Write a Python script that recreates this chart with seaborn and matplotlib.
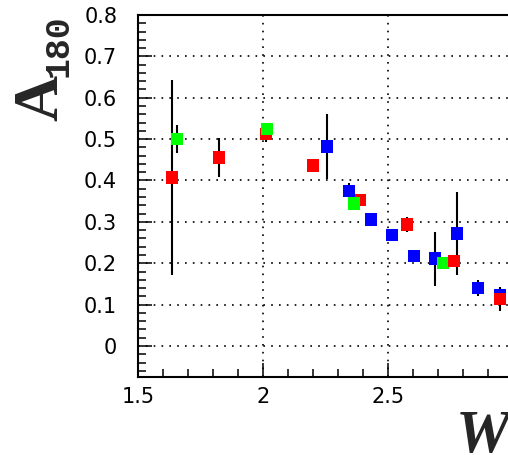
import numpy as np
import pandas as pd
import seaborn as sns
import matplotlib
matplotlib.use("Agg")
import matplotlib.pyplot as plt
from matplotlib.ticker import MultipleLocator, FuncFormatter

# Asymmetry A_180 versus W for three data sets
w_red = [1.636, 1.824, 2.012, 2.199, 2.388, 2.575, 2.764, 2.948]
a_red = [0.407, 0.456, 0.512, 0.436, 0.353, 0.294, 0.206, 0.113]
e_red = [0.235, 0.047, 0.020, 0.000, 0.010, 0.018, 0.000, 0.028]

w_green = [1.657, 2.015, 2.365, 2.719]
a_green = [0.500, 0.525, 0.344, 0.200]
e_green = [0.034, 0.015, 0.010, 0.015]

w_blue = [2.257, 2.344, 2.431, 2.517, 2.604, 2.689, 2.776, 2.861, 2.948]
a_blue = [0.482, 0.374, 0.306, 0.268, 0.218, 0.211, 0.272, 0.140, 0.122]
e_blue = [0.078, 0.020, 0.010, 0.010, 0.010, 0.065, 0.100, 0.020, 0.020]

x_ticks = [1.5, 2.0, 2.5, 3.0]
y_ticks = [0.0, 0.1, 0.2, 0.3, 0.4, 0.5, 0.6, 0.7, 0.8]

colors = {"red": "#ff0000", "green": "#00ff00", "blue": "#0000ff"}


def frame(name, w, a, e):
    return pd.DataFrame({"W": w, "A": a, "err": e, "series": name})


red = frame("red", w_red, a_red, e_red)
green = frame("green", w_green, a_green, e_green)
blue = frame("blue", w_blue, a_blue, e_blue)
# layering: low-W red points underneath, high-W red points on top
df = pd.concat([red[red.W < 2.5], blue, green, red[red.W >= 2.5]],
               ignore_index=True)

sns.set_style("white")
plt.rcParams["font.family"] = ["DejaVu Sans"]

W_PX, H_PX = 508, 455
fig = plt.figure(figsize=(W_PX / 100, H_PX / 100), dpi=100)
ax = fig.add_axes([138 / W_PX, 78 / H_PX, 400 / W_PX, 362 / H_PX])

ax.errorbar(df.W, df.A, yerr=df.err, fmt="none", ecolor="black",
            elinewidth=1.5, capsize=0, zorder=2)
sns.scatterplot(data=df, x="W", y="A", hue="series", palette=colors,
                marker="s", s=80, linewidth=0, legend=False, ax=ax, zorder=3)

ax.set_xlim(1.5, 3.1)
ax.set_ylim(-0.075, 0.8)
ax.set_xticks(x_ticks)
ax.set_yticks(y_ticks)
ax.xaxis.set_minor_locator(MultipleLocator(0.1))
ax.yaxis.set_minor_locator(MultipleLocator(0.02))
fmt = FuncFormatter(lambda v, p: f"{v:g}")
ax.xaxis.set_major_formatter(fmt)
ax.yaxis.set_major_formatter(fmt)
ax.set_xlabel("")
ax.set_ylabel("")

ax.tick_params(which="both", direction="in", top=False, right=False,
               left=True, bottom=True, width=1.1, color="black",
               labelsize=15, labelcolor="black")
ax.tick_params(which="major", length=10)
ax.tick_params(which="minor", length=5.5)
ax.tick_params(axis="y", which="major", pad=15)
ax.tick_params(axis="x", which="major", pad=7)

for sp in ax.spines.values():
    sp.set_color("black")
    sp.set_linewidth(1.5)

ax.grid(True, which="major", color="black", linestyle=(0, (1, 3.7)),
        linewidth=1.2)
ax.set_axisbelow(True)


def px(x, y):
    return x / W_PX, 1 - y / H_PX


fig.text(*px(57, 98), "A", rotation=90, rotation_mode="anchor",
         ha="center", va="baseline", fontsize=46, fontweight="bold",
         family="Liberation Serif")
fig.text(*px(68, 46), "180", rotation=90, rotation_mode="anchor",
         ha="center", va="baseline", fontsize=25, fontweight="bold",
         family="Liberation Mono")
fig.text(*px(456, 452), "W", ha="left", va="baseline", fontsize=44,
         fontweight="bold", fontstyle="italic", family="Liberation Serif")

fig.savefig("out.png", dpi=100)
